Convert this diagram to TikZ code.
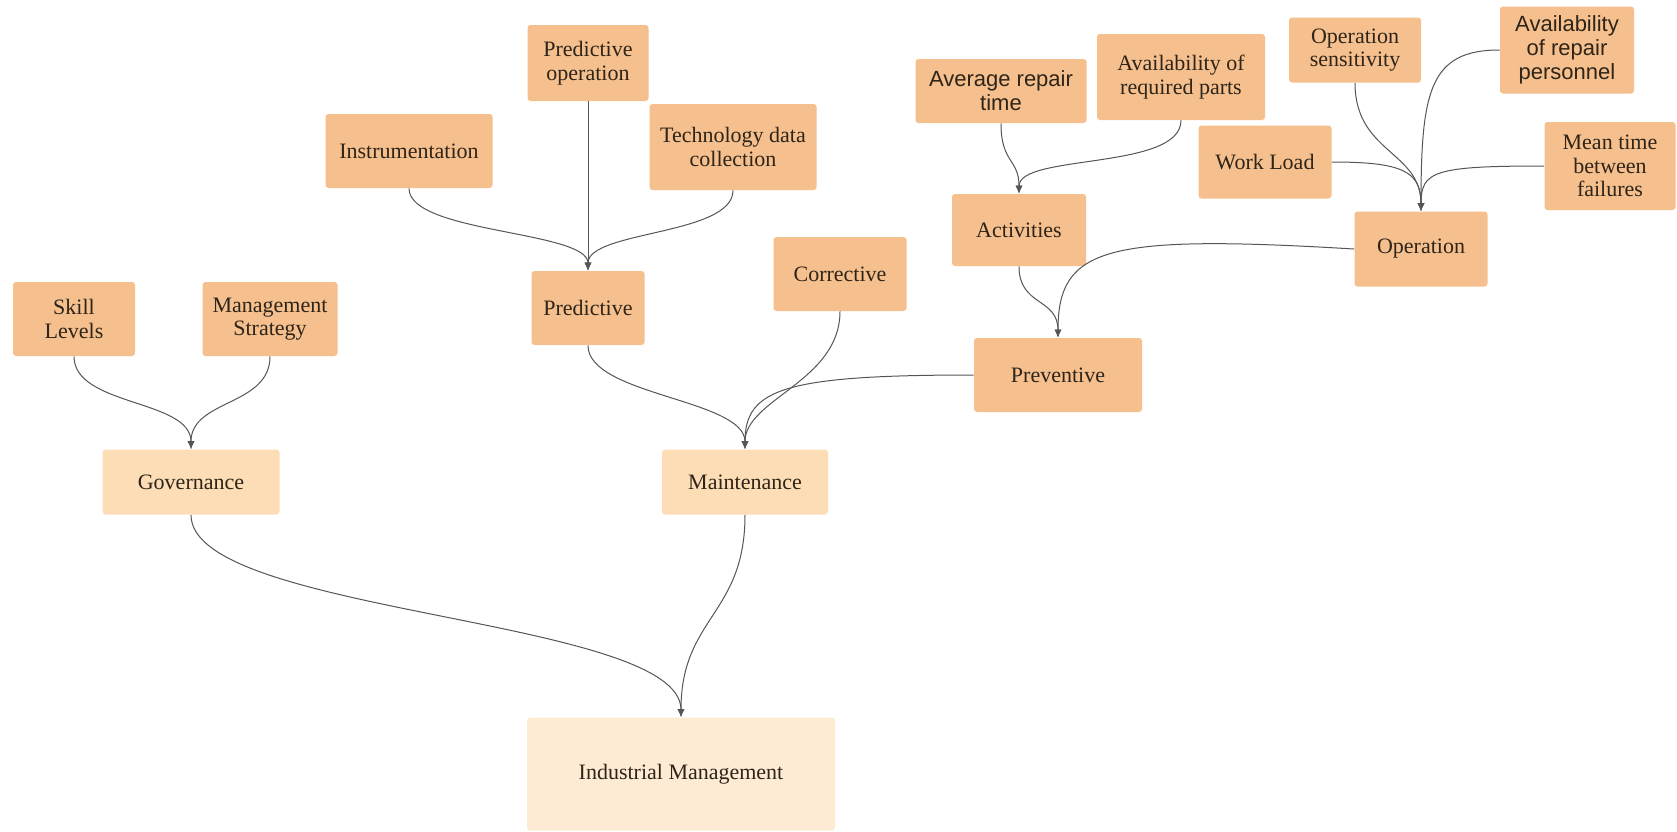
\documentclass[tikz,border=0pt]{standalone}
\usepackage{fontspec}
\setmainfont{Liberation Serif}
\newfontfamily\sansf{Liberation Sans}
\usetikzlibrary{arrows.meta}
\definecolor{darkbox}{HTML}{F5C08E}
\definecolor{lightbox}{HTML}{FCDDB6}
\definecolor{palebox}{HTML}{FEEBD3}
\definecolor{linec}{HTML}{555555}
\definecolor{txt}{HTML}{2E2418}
\tikzset{
  dbox/.style={rectangle, rounded corners=1.5pt, fill=darkbox, align=center, inner sep=0pt, text=txt, font=\fontsize{11}{11.8}\selectfont},
  lbox/.style={dbox, fill=lightbox},
  pbox/.style={dbox, fill=palebox},
  sbox/.style={dbox, font=\sansf\fontsize{11}{12}\selectfont},
  conn/.style={draw=linec, line width=0.5pt, -{Latex[length=4pt,width=3.5pt]}}
}
\begin{document}
\begin{tikzpicture}[x=0.5pt,y=-0.5pt]
\useasboundingbox (0,0) rectangle (1677,831);
% nodes
\node[dbox, minimum width=61pt, minimum height=37pt] (skill) at (74,319) {Skill\\Levels};
\node[dbox, minimum width=67.5pt, minimum height=37pt] (mgmt) at (270,319) {Management\\Strategy};
\node[lbox, minimum width=88.5pt, minimum height=32.5pt] (gov) at (191,482) {Governance};
\node[dbox, minimum width=83.5pt, minimum height=37pt] (instr) at (409,151) {Instrumentation};
\node[dbox, minimum width=60.5pt, minimum height=38pt] (predop) at (588,63) {Predictive\\operation};
\node[dbox, minimum width=83.5pt, minimum height=43pt] (tech) at (733,147) {Technology data\\collection};
\node[dbox, minimum width=56.5pt, minimum height=37pt] (pred) at (588,308) {Predictive};
\node[dbox, minimum width=66.5pt, minimum height=37pt] (corr) at (840,274) {Corrective};
\node[lbox, minimum width=83pt, minimum height=32.5pt] (maint) at (745,482) {Maintenance};
\node[pbox, minimum width=154pt, minimum height=56.5pt] (indm) at (681,774) {Industrial Management};
\node[sbox, minimum width=85.5pt, minimum height=32pt] (avgrep) at (1001,91) {Average repair\\time};
\node[dbox, minimum width=84pt, minimum height=43pt] (avparts) at (1181,77) {Availability of\\required parts};
\node[dbox, minimum width=67pt, minimum height=36pt] (activ) at (1019,230) {Activities};
\node[dbox, minimum width=84pt, minimum height=37pt] (prev) at (1058,375) {Preventive};
\node[dbox, minimum width=66pt, minimum height=32.5pt] (opsens) at (1355,50) {Operation\\sensitivity};
\node[sbox, minimum width=67pt, minimum height=43.5pt] (avpers) at (1567,50) {Availability\\of repair\\personnel};
\node[dbox, minimum width=66.5pt, minimum height=36.5pt] (workload) at (1265,162) {Work Load};
\node[dbox, minimum width=65.5pt, minimum height=44pt] (mtbf) at (1610,166) {Mean time\\between\\failures};
\node[dbox, minimum width=66.5pt, minimum height=37.5pt] (oper) at (1421,249) {Operation};
% connectors
\draw[conn] (skill.south) .. controls +(0,50) and +(0,-50) .. (gov.north);
\draw[conn] (mgmt.south) .. controls +(0,50) and +(0,-50) .. (gov.north);
\draw[conn] (instr.south) .. controls +(0,45) and +(0,-40) .. (pred.north);
\draw[conn] (predop.south) -- (pred.north);
\draw[conn] (tech.south) .. controls +(0,45) and +(0,-40) .. (pred.north);
\draw[conn] (pred.south) .. controls +(0,50) and +(0,-50) .. (maint.north);
\draw[conn] (corr.south) .. controls +(0,70) and +(0,-50) .. (maint.north);
\draw[conn] (prev.west) .. controls +(-190,0) and +(0,-60) .. (maint.north);
\draw[conn] (gov.south) .. controls +(0,100) and +(0,-100) .. (indm.north);
\draw[conn] (maint.south) .. controls +(0,100) and +(0,-100) .. (indm.north);
\draw[conn] (avgrep.south) .. controls +(0,40) and +(0,-35) .. (activ.north);
\draw[conn] (avparts.south) .. controls +(0,50) and +(0,-40) .. (activ.north);
\draw[conn] (activ.south) .. controls +(0,40) and +(0,-40) .. (prev.north);
\draw[conn] (oper.west) .. controls +(-250,-15) and +(0,-90) .. (prev.north);
\draw[conn] (opsens.south) .. controls +(0,70) and +(0,-60) .. (oper.north);
\draw[conn] (avpers.west) .. controls +(-70,0) and +(0,-120) .. (oper.north);
\draw[conn] (workload.east) .. controls +(70,0) and +(0,-40) .. (oper.north);
\draw[conn] (mtbf.west) .. controls +(-110,0) and +(0,-40) .. (oper.north);
\end{tikzpicture}
\end{document}
